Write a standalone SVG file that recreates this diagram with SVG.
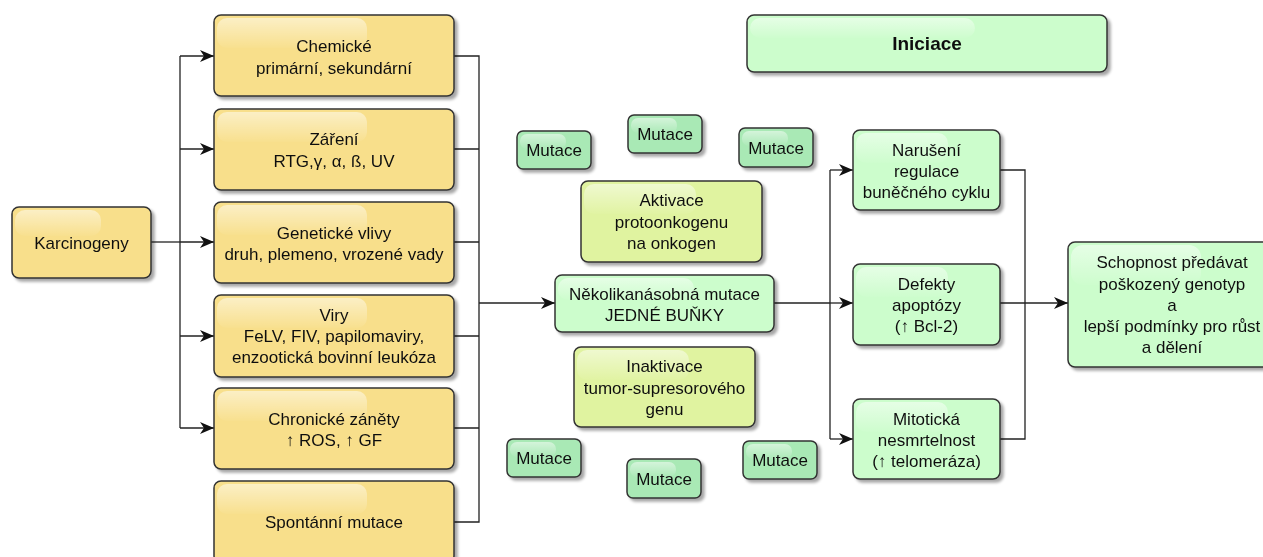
<svg xmlns="http://www.w3.org/2000/svg" width="1263" height="557" viewBox="0 0 1263 557">
  <defs>
    <filter id="shadow" x="-10%" y="-10%" width="130%" height="140%">
      <feGaussianBlur in="SourceAlpha" stdDeviation="1.6"/>
      <feOffset dx="3" dy="3" result="b"/>
      <feComponentTransfer><feFuncA type="linear" slope="0.35"/></feComponentTransfer>
      <feMerge><feMergeNode/><feMergeNode in="SourceGraphic"/></feMerge>
    </filter>
    <linearGradient id="gloss" x1="0" y1="0" x2="0" y2="1">
      <stop offset="0" stop-color="#ffffff" stop-opacity="0.5"/>
      <stop offset="1" stop-color="#ffffff" stop-opacity="0.03"/>
    </linearGradient>
    <marker id="arrow" viewBox="0 0 14 12" refX="14" refY="6" markerWidth="14" markerHeight="12" markerUnits="userSpaceOnUse" orient="auto">
      <path d="M0,0 L14,6 L0,12 L4,6 Z" fill="#111"/>
    </marker>
  </defs>
  <style>
    .box { stroke: #333; stroke-width: 1.5; }
    .yellow { fill: #f8df8b; }
    .green { fill: #ccfdcc; }
    .olive { fill: #e0f3a0; }
    .mut { fill: #a9e9b5; }
    .gloss { fill: url(#gloss); }
    text { font-family: "Liberation Sans", Arial, sans-serif; font-size: 17px; fill: #111; text-anchor: middle; }
    .bold { font-weight: bold; font-size: 19px; }
    .edge { fill: none; stroke: #222; stroke-width: 1.3; }
  </style>

  <!-- connectors -->
  <g id="connectors">
    <path class="edge" d="M151,242 H180"/>
    <path class="edge" d="M180,56 V428"/>
    <path class="edge" d="M180,56 H214" marker-end="url(#arrow)"/>
    <path class="edge" d="M180,149 H214" marker-end="url(#arrow)"/>
    <path class="edge" d="M180,242 H214" marker-end="url(#arrow)"/>
    <path class="edge" d="M180,336 H214" marker-end="url(#arrow)"/>
    <path class="edge" d="M180,428 H214" marker-end="url(#arrow)"/>
    <path class="edge" d="M454,56 H479 V522 H454"/>
    <path class="edge" d="M454,149 H479 M454,242 H479 M454,336 H479 M454,428 H479"/>
    <path class="edge" d="M479,303 H555" marker-end="url(#arrow)"/>
    <path class="edge" d="M774,303 H830"/>
    <path class="edge" d="M830,170 V439"/>
    <path class="edge" d="M830,170 H853" marker-end="url(#arrow)"/>
    <path class="edge" d="M830,303 H853" marker-end="url(#arrow)"/>
    <path class="edge" d="M830,439 H853" marker-end="url(#arrow)"/>
    <path class="edge" d="M1000,170 H1025 V439 H1000"/>
    <path class="edge" d="M1000,303 H1068" marker-end="url(#arrow)"/>
  </g>

  <!-- carcinogen sources -->
  <g id="karcinogeny" filter="url(#shadow)">
    <rect class="box yellow" x="12" y="207" width="139" height="71" rx="7"/>
    <rect class="gloss" x="15" y="210" width="86" height="26" rx="10"/>
    <text x="81.5" y="249">Karcinogeny</text>
  </g>
  <g id="chemicke" filter="url(#shadow)">
    <rect class="box yellow" x="214" y="15" width="240" height="81" rx="7"/>
    <rect class="gloss" x="217" y="18" width="150" height="30" rx="10"/>
    <text x="334" y="52">Chemické</text>
    <text x="334" y="74">primární, sekundární</text>
  </g>
  <g id="zareni" filter="url(#shadow)">
    <rect class="box yellow" x="214" y="109" width="240" height="81" rx="7"/>
    <rect class="gloss" x="217" y="112" width="150" height="30" rx="10"/>
    <text x="334" y="145">Záření</text>
    <text x="334" y="167">RTG,γ, α, ß, UV</text>
  </g>
  <g id="geneticke" filter="url(#shadow)">
    <rect class="box yellow" x="214" y="202" width="240" height="81" rx="7"/>
    <rect class="gloss" x="217" y="205" width="150" height="30" rx="10"/>
    <text x="334" y="239">Genetické vlivy</text>
    <text x="334" y="260">druh, plemeno, vrozené vady</text>
  </g>
  <g id="viry" filter="url(#shadow)">
    <rect class="box yellow" x="214" y="295" width="240" height="82" rx="7"/>
    <rect class="gloss" x="217" y="298" width="150" height="30" rx="10"/>
    <text x="334" y="321">Viry</text>
    <text x="334" y="342">FeLV, FIV, papilomaviry,</text>
    <text x="334" y="363">enzootická bovinní leukóza</text>
  </g>
  <g id="chronicke" filter="url(#shadow)">
    <rect class="box yellow" x="214" y="388" width="240" height="81" rx="7"/>
    <rect class="gloss" x="217" y="391" width="150" height="30" rx="10"/>
    <text x="334" y="425">Chronické záněty</text>
    <text x="334" y="446">↑ ROS, ↑ GF</text>
  </g>
  <g id="spontanni" filter="url(#shadow)">
    <rect class="box yellow" x="214" y="481" width="240" height="82" rx="7"/>
    <rect class="gloss" x="217" y="484" width="150" height="30" rx="10"/>
    <text x="334" y="528">Spontánní mutace</text>
  </g>

  <!-- central mutation -->
  <g id="nekolikanasobna" filter="url(#shadow)">
    <rect class="box green" x="555" y="275" width="219" height="57" rx="7"/>
    <rect class="gloss" x="558" y="278" width="136" height="22" rx="10"/>
    <text x="664.5" y="300">Několikanásobná mutace</text>
    <text x="664.5" y="321">JEDNÉ BUŇKY</text>
  </g>
  <g id="aktivace" filter="url(#shadow)">
    <rect class="box olive" x="581" y="181" width="181" height="81" rx="7"/>
    <rect class="gloss" x="584" y="184" width="112" height="30" rx="10"/>
    <text x="671.5" y="206">Aktivace</text>
    <text x="671.5" y="228">protoonkogenu</text>
    <text x="671.5" y="249">na onkogen</text>
  </g>
  <g id="inaktivace" filter="url(#shadow)">
    <rect class="box olive" x="574" y="347" width="181" height="80" rx="7"/>
    <rect class="gloss" x="577" y="350" width="112" height="30" rx="10"/>
    <text x="664.5" y="372">Inaktivace</text>
    <text x="664.5" y="394">tumor-supresorového</text>
    <text x="664.5" y="415">genu</text>
  </g>

  <!-- scattered mutations -->
  <g id="mutace1" filter="url(#shadow)">
    <rect class="box mut" x="517" y="131" width="74" height="38" rx="6"/>
    <rect class="gloss" x="520" y="134" width="46" height="15" rx="7"/>
    <text x="554" y="156">Mutace</text>
  </g>
  <g id="mutace2" filter="url(#shadow)">
    <rect class="box mut" x="628" y="115" width="74" height="38" rx="6"/>
    <rect class="gloss" x="631" y="118" width="46" height="15" rx="7"/>
    <text x="665" y="140">Mutace</text>
  </g>
  <g id="mutace3" filter="url(#shadow)">
    <rect class="box mut" x="739" y="128" width="74" height="39" rx="6"/>
    <rect class="gloss" x="742" y="131" width="46" height="15" rx="7"/>
    <text x="776" y="154">Mutace</text>
  </g>
  <g id="mutace4" filter="url(#shadow)">
    <rect class="box mut" x="507" y="439" width="74" height="38" rx="6"/>
    <rect class="gloss" x="510" y="442" width="46" height="15" rx="7"/>
    <text x="544" y="464">Mutace</text>
  </g>
  <g id="mutace5" filter="url(#shadow)">
    <rect class="box mut" x="627" y="459" width="74" height="39" rx="6"/>
    <rect class="gloss" x="630" y="462" width="46" height="15" rx="7"/>
    <text x="664" y="485">Mutace</text>
  </g>
  <g id="mutace6" filter="url(#shadow)">
    <rect class="box mut" x="743" y="441" width="74" height="38" rx="6"/>
    <rect class="gloss" x="746" y="444" width="46" height="15" rx="7"/>
    <text x="780" y="466">Mutace</text>
  </g>

  <!-- consequences -->
  <g id="naruseni" filter="url(#shadow)">
    <rect class="box green" x="853" y="130" width="147" height="80" rx="7"/>
    <rect class="gloss" x="856" y="133" width="92" height="30" rx="10"/>
    <text x="926.5" y="156">Narušení</text>
    <text x="926.5" y="177">regulace</text>
    <text x="926.5" y="198">buněčného cyklu</text>
  </g>
  <g id="defekty" filter="url(#shadow)">
    <rect class="box green" x="853" y="264" width="147" height="81" rx="7"/>
    <rect class="gloss" x="856" y="267" width="92" height="30" rx="10"/>
    <text x="926.5" y="290">Defekty</text>
    <text x="926.5" y="311">apoptózy</text>
    <text x="926.5" y="332">(↑ Bcl-2)</text>
  </g>
  <g id="mitoticka" filter="url(#shadow)">
    <rect class="box green" x="853" y="399" width="147" height="80" rx="7"/>
    <rect class="gloss" x="856" y="402" width="92" height="30" rx="10"/>
    <text x="926.5" y="425">Mitotická</text>
    <text x="926.5" y="446">nesmrtelnost</text>
    <text x="926.5" y="467">(↑ telomeráza)</text>
  </g>
  <g id="schopnost" filter="url(#shadow)">
    <rect class="box green" x="1068" y="242" width="208" height="125" rx="7"/>
    <rect class="gloss" x="1071" y="245" width="130" height="40" rx="12"/>
    <text x="1172" y="268">Schopnost předávat</text>
    <text x="1172" y="290">poškozený genotyp</text>
    <text x="1172" y="311">a</text>
    <text x="1172" y="332">lepší podmínky pro růst</text>
    <text x="1172" y="353">a dělení</text>
  </g>

  <!-- stage title -->
  <g id="iniciace" filter="url(#shadow)">
    <rect class="box green" x="747" y="15" width="360" height="57" rx="7"/>
    <rect class="gloss" x="750" y="18" width="225" height="20" rx="10"/>
    <text class="bold" x="927" y="50">Iniciace</text>
  </g>
</svg>
